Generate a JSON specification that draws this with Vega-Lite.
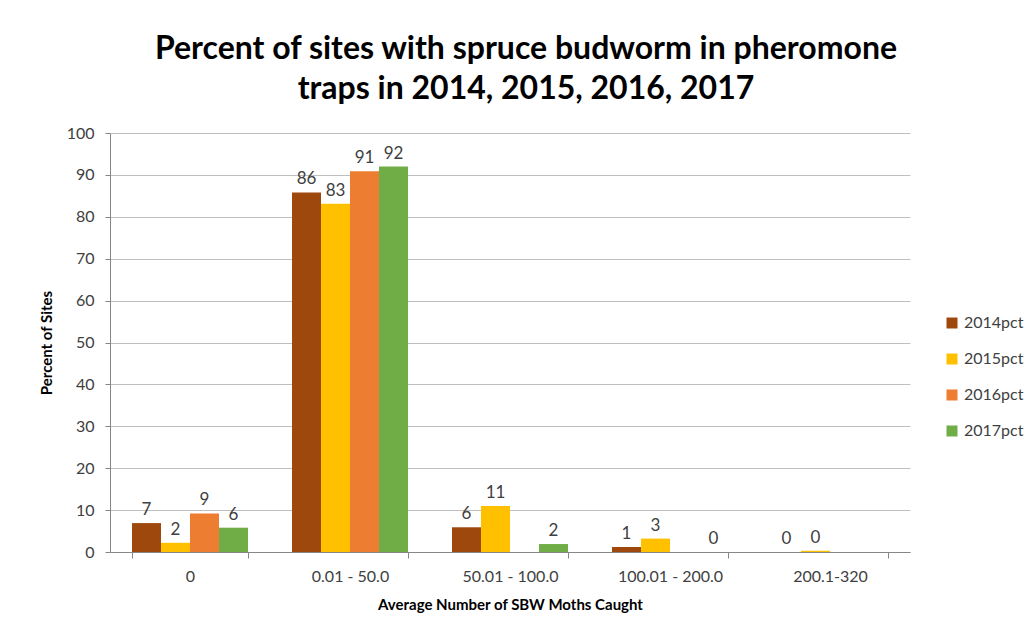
{
  "$schema": "https://vega.github.io/schema/vega-lite/v6.json",
  "width": 800,
  "height": 419,
  "autosize": {"type": "none"},
  "padding": {"left": 110, "top": 133, "right": 124, "bottom": 86},
  "background": "white",
  "config": {"view": {"stroke": null}, "font": "Lato"},
  "title": {
    "text": ["Percent of sites with spruce budworm in pheromone", "traps in 2014, 2015, 2016, 2017"],
    "font": "Lato",
    "fontSize": 32,
    "fontWeight": "bold",
    "color": "black",
    "anchor": "middle",
    "frame": "group",
    "dx": 16,
    "offset": 19,
    "lineHeight": 40
  },
  "data": {
    "values": [
      {"range": "0", "series": "2014pct", "pct": 6.9},
      {"range": "0", "series": "2015pct", "pct": 2.2},
      {"range": "0", "series": "2016pct", "pct": 9.2},
      {"range": "0", "series": "2017pct", "pct": 5.8},
      {"range": "0.01 - 50.0", "series": "2014pct", "pct": 85.8},
      {"range": "0.01 - 50.0", "series": "2015pct", "pct": 83.1},
      {"range": "0.01 - 50.0", "series": "2016pct", "pct": 90.9},
      {"range": "0.01 - 50.0", "series": "2017pct", "pct": 92.0},
      {"range": "50.01 - 100.0", "series": "2014pct", "pct": 5.9},
      {"range": "50.01 - 100.0", "series": "2015pct", "pct": 11.0},
      {"range": "50.01 - 100.0", "series": "2017pct", "pct": 1.9},
      {"range": "100.01 - 200.0", "series": "2014pct", "pct": 1.2},
      {"range": "100.01 - 200.0", "series": "2015pct", "pct": 3.2},
      {"range": "100.01 - 200.0", "series": "2017pct", "pct": 0},
      {"range": "200.1-320", "series": "2014pct", "pct": 0},
      {"range": "200.1-320", "series": "2015pct", "pct": 0.3}
    ]
  },
  "encoding": {
    "x": {
      "field": "range",
      "type": "nominal",
      "sort": ["0", "0.01 - 50.0", "50.01 - 100.0", "100.01 - 200.0", "200.1-320"],
      "scale": {"paddingInner": 0.275, "paddingOuter": 0.1375},
      "axis": {
        "title": "Average Number of SBW Moths Caught",
        "titleFont": "Lato",
        "titleFontSize": 15,
        "titleFontWeight": "bold",
        "titleColor": "black",
        "titlePadding": 13,
        "labelAngle": 0,
        "labelFont": "Lato",
        "labelFontSize": 16,
        "labelColor": "#404040",
        "labelPadding": 10,
        "domainColor": "#868686",
        "tickColor": "#868686",
        "tickBand": "extent",
        "tickSize": 6
      }
    },
    "xOffset": {
      "field": "series",
      "type": "nominal",
      "sort": ["2014pct", "2015pct", "2016pct", "2017pct"],
      "scale": {"domain": ["2014pct", "2015pct", "2016pct", "2017pct"], "paddingInner": 0, "paddingOuter": 0}
    },
    "y": {
      "field": "pct",
      "type": "quantitative",
      "scale": {"domain": [0, 100], "nice": false},
      "axis": {
        "title": "Percent of Sites",
        "titleFont": "Lato",
        "titleFontSize": 15,
        "titleFontWeight": "bold",
        "titleColor": "black",
        "titlePadding": 12,
        "values": [0, 10, 20, 30, 40, 50, 60, 70, 80, 90, 100],
        "labelFont": "Lato",
        "labelFontSize": 16,
        "labelColor": "#404040",
        "labelPadding": 11,
        "domainColor": "#868686",
        "tickColor": "#868686",
        "tickSize": 5,
        "gridColor": "#bfbfbf",
        "gridWidth": 1
      }
    }
  },
  "layer": [
    {
      "mark": {"type": "bar"},
      "encoding": {
        "color": {
          "field": "series",
          "type": "nominal",
          "scale": {
            "domain": ["2014pct", "2015pct", "2016pct", "2017pct"],
            "range": ["#9E480E", "#FFC000", "#ED7D31", "#70AD47"]
          },
          "legend": {
            "title": null,
            "orient": "none",
            "legendX": 834,
            "legendY": 182,
            "symbolType": "square",
            "symbolSize": 121,
            "symbolStrokeWidth": 0,
            "labelFont": "Lato",
            "labelFontSize": 16,
            "labelColor": "#404040",
            "labelOffset": 4,
            "rowPadding": 20
          }
        }
      }
    },
    {
      "mark": {"type": "text", "dy": -13, "fontSize": 17, "font": "Lato", "color": "#404040"},
      "encoding": {
        "text": {"field": "pct", "type": "quantitative", "format": ".0f"}
      }
    }
  ]
}
